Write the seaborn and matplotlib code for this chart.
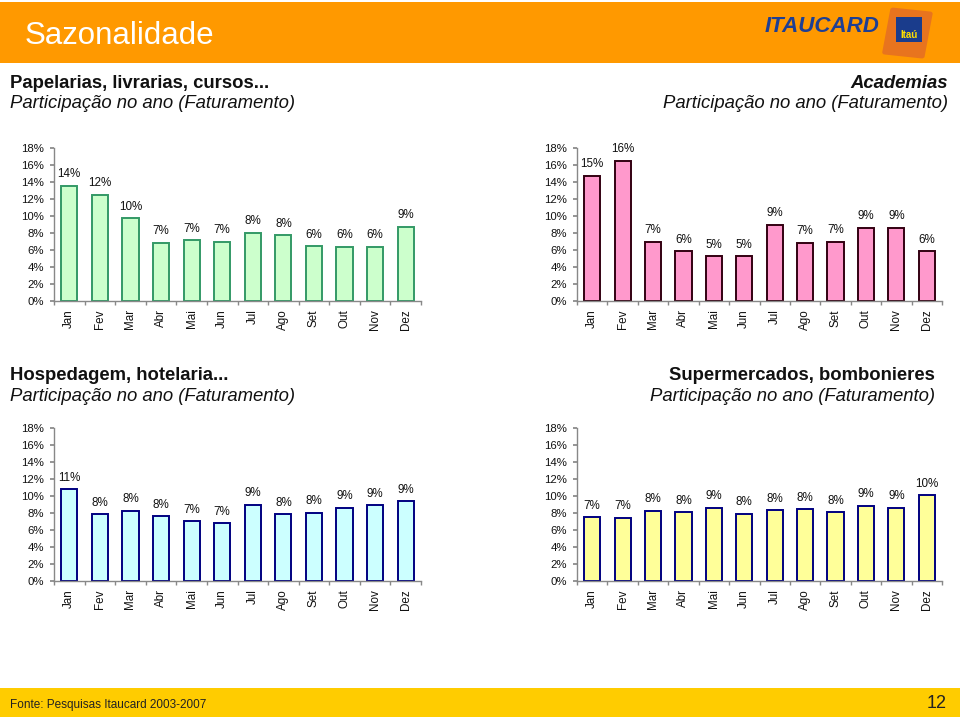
import matplotlib
matplotlib.use("Agg")
import matplotlib.pyplot as plt
import seaborn as sns
import pandas as pd
from matplotlib.patches import Rectangle, FancyBboxPatch
from matplotlib.ticker import FuncFormatter, FixedLocator
import matplotlib.transforms as mtransforms

sns.set_theme(style="white")
plt.rcParams["font.family"] = ["Liberation Sans", "DejaVu Sans"]

months = ["Jan", "Fev", "Mar", "Abr", "Mai", "Jun", "Jul", "Ago", "Set", "Out", "Nov", "Dez"]

# participação mensal no faturamento anual (%)
papelarias = [13.55, 12.45, 9.7, 6.8, 7.1, 6.9, 8.0, 7.7, 6.4, 6.35, 6.35, 8.7]
academias = [14.7, 16.45, 6.9, 5.8, 5.25, 5.25, 8.9, 6.8, 6.9, 8.6, 8.55, 5.8]
hospedagem = [10.75, 7.8, 8.2, 7.6, 7.0, 6.75, 8.95, 7.8, 8.0, 8.55, 8.85, 9.35]
supermercados = [7.45, 7.4, 8.2, 8.05, 8.55, 7.9, 8.3, 8.4, 8.05, 8.8, 8.55, 10.05]

titles = ["Papelarias, livrarias, cursos...", "Academias",
          "Hospedagem, hotelaria...", "Supermercados, bombonieres"]
subtitle = "Participação no ano (Faturamento)"

fig = plt.figure(figsize=(9.6, 7.2), dpi=100)

# faixa laranja do cabeçalho
fig.patches.append(Rectangle((0, 1 - 63 / 720), 1, 61 / 720, transform=fig.transFigure,
                             facecolor="#FF9900", edgecolor="none", zorder=0))
fig.text(25 / 960, 1 - 36 / 720, "Sazonalidade", color="white", fontsize=22.5,
         va="center", ha="left")

# logo aproximado
fig.text(765 / 960, 1 - 26 / 720, "ITAUCARD", color="#1E3F94", fontsize=16,
         fontweight="bold", style="italic", va="center", ha="left")
tile = FancyBboxPatch((889 / 960, 1 - 54 / 720), 37 / 960, 43 / 720,
                      boxstyle="round,pad=0.003", transform=fig.transFigure,
                      facecolor="#E8741E", edgecolor="none", zorder=1)
tile.set_transform(mtransforms.Affine2D().rotate_deg_around(0.94, 0.955, -8) + fig.transFigure)
fig.patches.append(tile)
fig.patches.append(Rectangle((896 / 960, 1 - 42 / 720), 26 / 960, 25 / 720,
                             transform=fig.transFigure, facecolor="#1A3C8C",
                             edgecolor="none", zorder=2))
fig.text(909.5 / 960, 1 - 35 / 720, "Itaú", color="#FFE000", fontsize=7,
         fontweight="bold", ha="center", va="center", zorder=3)

# rodapé amarelo
fig.patches.append(Rectangle((0, 1 - 717 / 720), 1, 29 / 720, transform=fig.transFigure,
                             facecolor="#FFCC00", edgecolor="none", zorder=0))
fig.text(10 / 960, 1 - 705 / 720, "Fonte: Pesquisas Itaucard 2003-2007", fontsize=8.5,
         color="#222222", va="center", ha="left")
fig.text(947 / 960, 1 - 703 / 720, "12", fontsize=13, color="#222222",
         va="center", ha="right")

# títulos dos gráficos
title_pos = [(10, 83, "left", "normal"), (948, 83, "right", "italic"),
             (10, 375, "left", "normal"), (935, 375, "right", "normal")]
for (x, y, ha, st), t in zip(title_pos, titles):
    fig.text(x / 960, 1 - y / 720, t, fontsize=13.3, fontweight="bold", style=st,
             ha=ha, va="center", color="#111111")
    fig.text(x / 960, 1 - (y + 21) / 720, subtitle, fontsize=13.3, style="italic",
             ha=ha, va="center", color="#111111")

series = [papelarias, academias, hospedagem, supermercados]
fills = ["#CCFFCC", "#FF99CC", "#CCFFFF", "#FFFF99"]
edges = ["#339966", "#330011", "#000080", "#000080"]
boxes = [(54, 147.7, 367), (577, 147.7, 365), (54, 427.7, 367), (577, 427.7, 365)]

for vals, fc, ec, (x0, ytop, w) in zip(series, fills, edges, boxes):
    ax = fig.add_axes([x0 / 960, 1 - (ytop + 153) / 720, w / 960, 153 / 720])
    df = pd.DataFrame({"mes": months, "valor": vals})
    sns.barplot(data=df, x="mes", y="valor", color=fc, edgecolor=ec, linewidth=1.4,
                saturation=1, width=0.53, ax=ax)
    for i, v in enumerate(vals):
        ax.annotate(f"{int(v + 0.5)}%", (i, v), xytext=(0, 4), textcoords="offset points",
                    ha="center", va="bottom", fontsize=8.4, color="#111111")
    ax.set_xlim(-0.5, 11.5)
    ax.set_ylim(0, 18)
    ax.set_yticks(range(0, 19, 2))
    ax.yaxis.set_major_formatter(FuncFormatter(lambda y, _: f"{y:.0f}%"))
    ax.xaxis.set_minor_locator(FixedLocator([i - 0.5 for i in range(13)]))
    ax.tick_params(axis="x", which="major", length=0, labelrotation=90, labelsize=8.4,
                   pad=6)
    ax.tick_params(axis="x", which="minor", length=3, color="#888888", direction="out",
                   bottom=True)
    ax.tick_params(axis="y", length=3, color="#888888", direction="out", left=True,
                   labelsize=8.2, pad=4)
    for lab in ax.get_xticklabels() + ax.get_yticklabels():
        lab.set_color("#111111")
    ax.set_xlabel("")
    ax.set_ylabel("")
    for s in ["top", "right"]:
        ax.spines[s].set_visible(False)
    for s in ["left", "bottom"]:
        ax.spines[s].set_color("#888888")
        ax.spines[s].set_linewidth(1)
    ax.set_facecolor("none")

fig.savefig("out.png", dpi=100)
